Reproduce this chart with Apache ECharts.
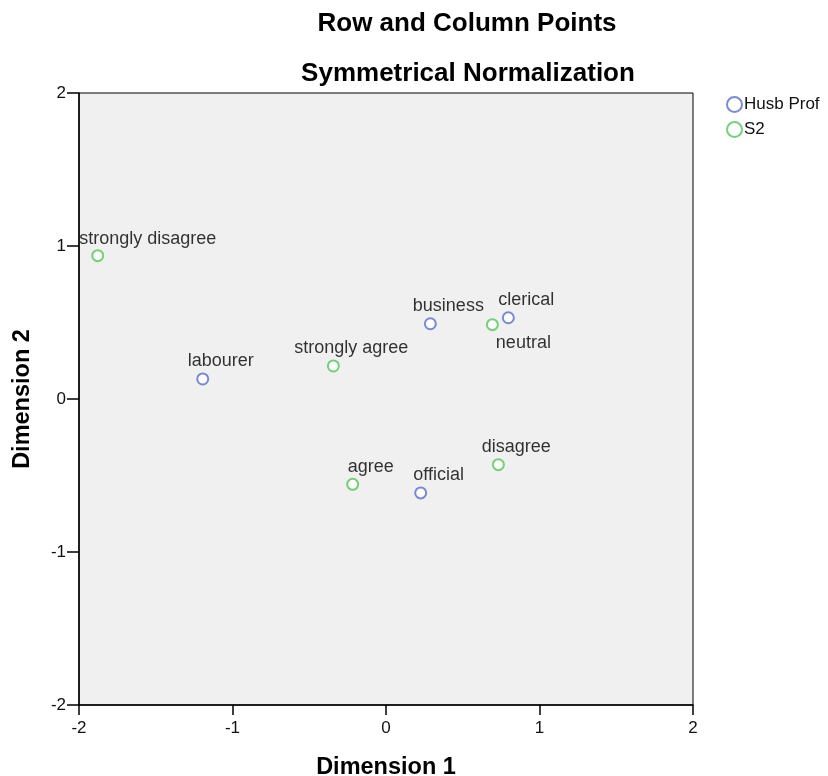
<!DOCTYPE html>
<html>
<head>
<meta charset="utf-8">
<script src="https://cdn.jsdelivr.net/npm/echarts@6/dist/echarts.min.js"></script>
<style>html,body{margin:0;padding:0;background:#fff;}#c{width:828px;height:776px;}</style>
</head>
<body>
<div id="c"></div>
<script>
// Data
var husbNames = ['labourer', 'business', 'clerical', 'official'];
var husbX = [-1.194, 0.289, 0.797, 0.226];
var husbY = [0.131, 0.492, 0.531, -0.614];

var s2Names = ['strongly disagree', 'strongly agree', 'neutral', 'agree', 'disagree'];
var s2X = [-1.878, -0.343, 0.693, -0.217, 0.732];
var s2Y = [0.937, 0.216, 0.486, -0.558, -0.429];

var tickValues = [-2, -1, 0, 1, 2];

// Label placement (style only)
var labelStyle = {
  'strongly disagree': { position: 'top', offset: [50, 2] },
  'neutral': { position: 'bottom', offset: [31, 0] }
};

function build(names, xs, ys) {
  return names.map(function (n, i) {
    var st = labelStyle[n] || { position: 'top', offset: [18, 1] };
    return {
      value: [xs[i], ys[i]],
      name: n,
      label: { position: st.position, offset: st.offset }
    };
  });
}

var font = 'Arial, "Liberation Sans", Helvetica, sans-serif';
var blue = '#5a6ec8';
var green = '#56c45a';
var chart = echarts.init(document.getElementById('c'), null, { renderer: 'canvas' });

var labelCommon = {
  show: true,
  formatter: function (p) { return p.name; },
  color: '#000',
  fontSize: 18,
  fontFamily: font,
  distance: 3
};

chart.setOption({
  animation: false,
  backgroundColor: '#ffffff',
  title: [
    { text: 'Row and Column Points', left: 462, top: 6, textAlign: 'center',
      textStyle: { fontSize: 26, fontWeight: 'bold', color: '#000', fontFamily: font } },
    { text: 'Symmetrical Normalization', left: 463, top: 56, textAlign: 'center',
      textStyle: { fontSize: 26, fontWeight: 'bold', color: '#000', fontFamily: font } }
  ],
  legend: {
    orient: 'vertical',
    left: 721,
    top: 91,
    itemWidth: 15,
    itemHeight: 15,
    itemGap: 8,
    itemStyle: { borderWidth: 1.6 },
    textStyle: { fontSize: 17, color: '#111', fontFamily: font, padding: [0, 0, 0, -3] },
    data: [
      { name: 'Husb Prof', icon: 'emptyCircle' },
      { name: 'S2', icon: 'emptyCircle' }
    ]
  },
  grid: {
    left: 79, right: 135, top: 93, bottom: 71,
    outerBoundsMode: 'none', containLabel: false,
    show: true, backgroundColor: '#f0f0f0', borderColor: '#000', borderWidth: 1
  },
  xAxis: {
    type: 'value', min: -2, max: 2, interval: 1,
    name: 'Dimension 1', nameLocation: 'middle', nameGap: 51,
    nameTextStyle: { fontSize: 23.5, fontWeight: 'bold', color: '#000', fontFamily: font },
    axisLine: { show: true, onZero: false, lineStyle: { color: '#000', width: 1.5 } },
    axisTick: { show: true, length: 10, lineStyle: { color: '#000', width: 1.5 } },
    axisLabel: { fontSize: 17, color: '#111', fontFamily: font, margin: 15 },
    splitLine: { show: false }
  },
  yAxis: {
    type: 'value', min: -2, max: 2, interval: 1,
    name: 'Dimension 2', nameLocation: 'middle', nameGap: 44,
    nameTextStyle: { fontSize: 23.5, fontWeight: 'bold', color: '#000', fontFamily: font },
    axisLine: { show: true, onZero: false, lineStyle: { color: '#000', width: 1.5 } },
    axisTick: { show: true, length: 12, lineStyle: { color: '#000', width: 1.5 } },
    axisLabel: { fontSize: 17, color: '#111', fontFamily: font, margin: 13 },
    splitLine: { show: false }
  },
  series: [
    {
      name: 'Husb Prof', type: 'scatter', symbol: 'emptyCircle', symbolSize: 11,
      itemStyle: { color: blue, borderColor: blue, borderWidth: 1.6 },
      label: labelCommon,
      data: build(husbNames, husbX, husbY)
    },
    {
      name: 'S2', type: 'scatter', symbol: 'emptyCircle', symbolSize: 11,
      itemStyle: { color: green, borderColor: green, borderWidth: 1.6 },
      label: labelCommon,
      data: build(s2Names, s2X, s2Y)
    }
  ]
});
</script>
</body>
</html>
